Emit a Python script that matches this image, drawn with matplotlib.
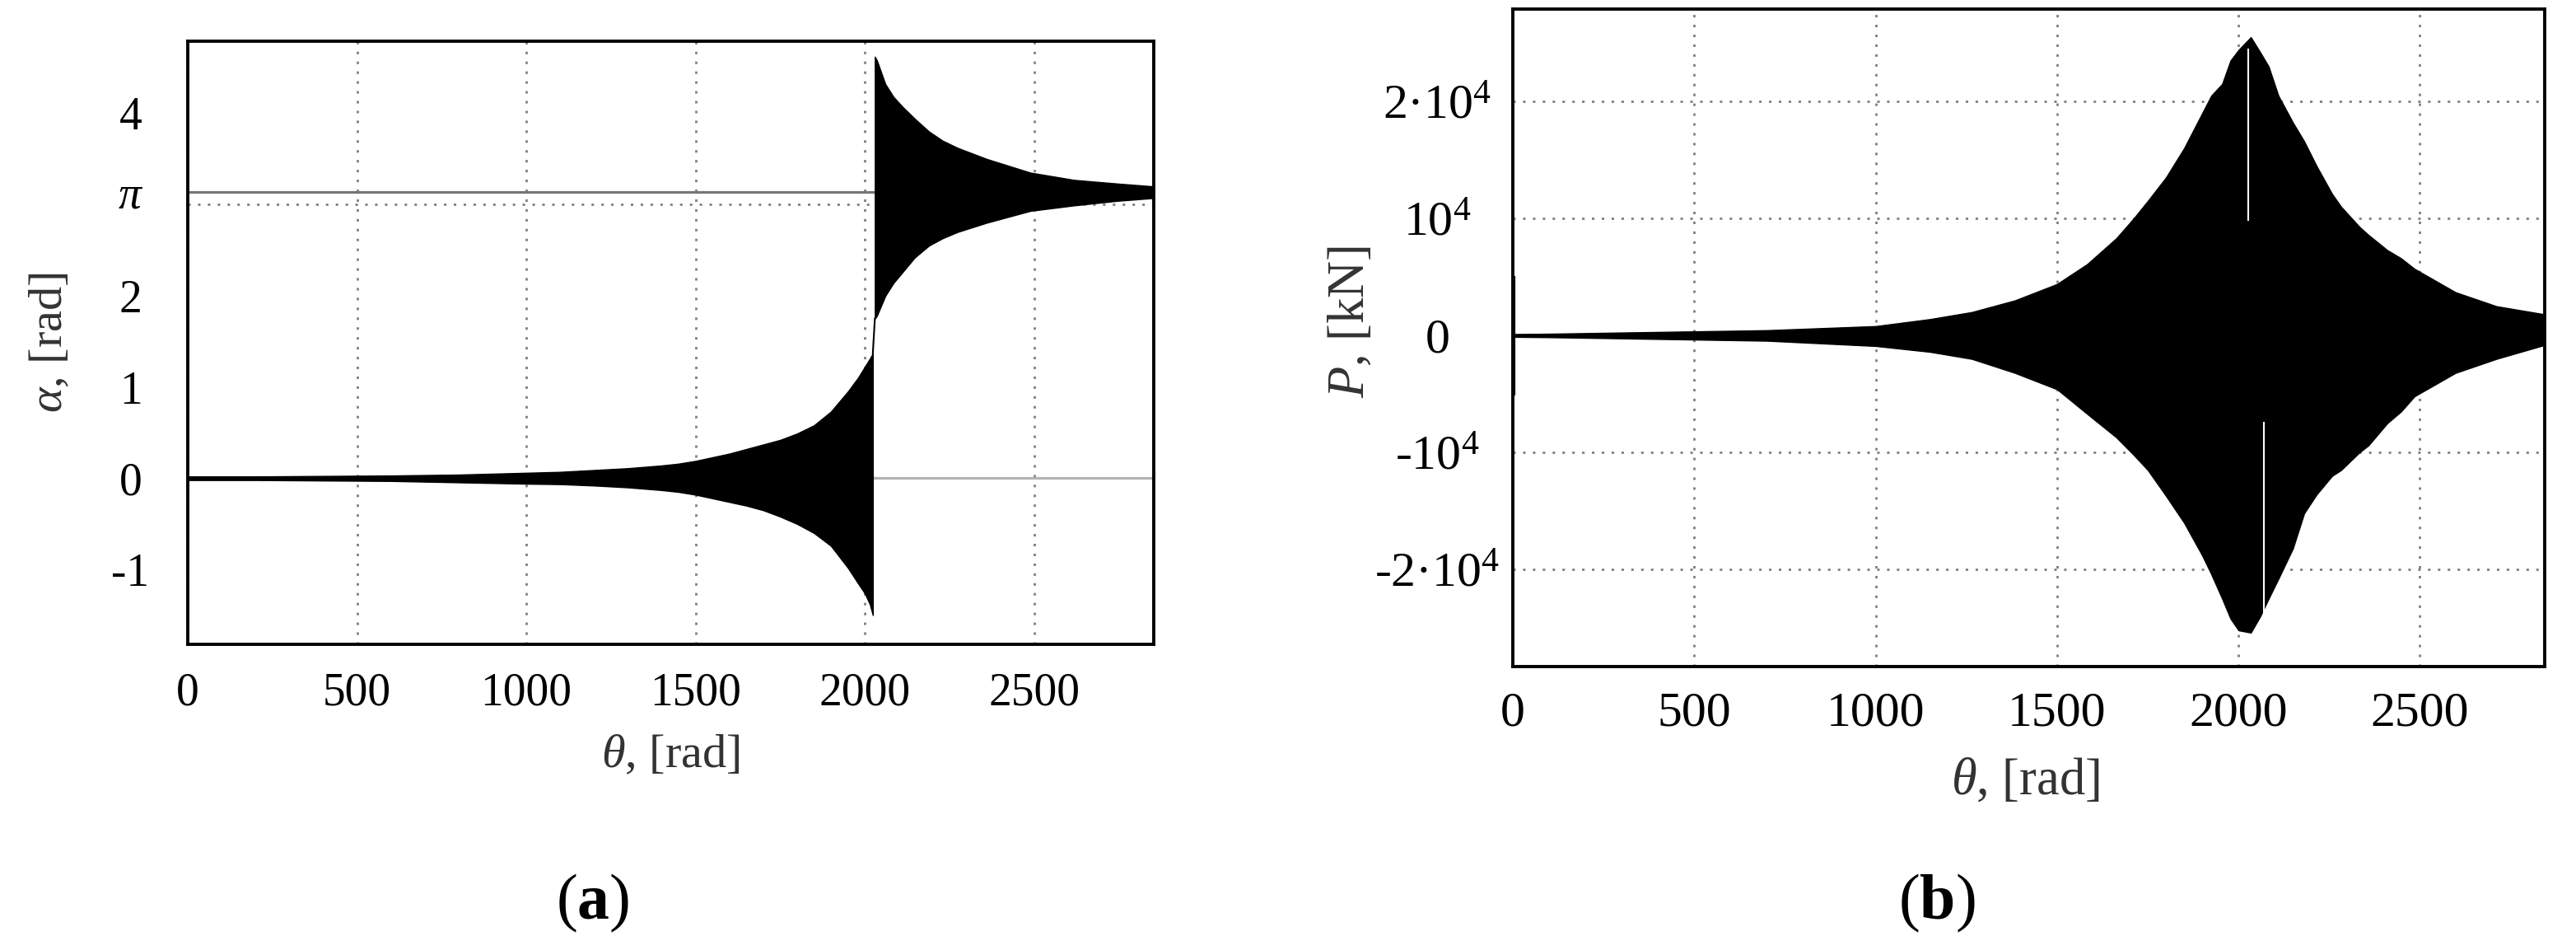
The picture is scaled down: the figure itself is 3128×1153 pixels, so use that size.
import numpy as np
import matplotlib
matplotlib.use("Agg")
import matplotlib.pyplot as plt

plt.rcParams['font.family'] = ['Liberation Serif', 'DejaVu Serif']
plt.rcParams['mathtext.fontset'] = 'custom'
plt.rcParams['mathtext.rm'] = 'Liberation Serif'
plt.rcParams['mathtext.it'] = 'Liberation Serif:italic'
plt.rcParams['mathtext.bf'] = 'Liberation Serif:bold'
plt.rcParams['axes.unicode_minus'] = False

# (a) pitch angle envelope before the flip, [rad]
theta_pre = [0, 200, 400, 600, 800, 1000, 1100, 1200, 1300, 1400, 1450, 1500, 1550,
             1600, 1650, 1700, 1750, 1800, 1850, 1900, 1950, 1980, 2000, 2015, 2024]
alpha_pre_hi = [0.02, 0.02, 0.025, 0.03, 0.04, 0.06, 0.07, 0.09, 0.11, 0.14, 0.16, 0.19, 0.23,
                0.27, 0.32, 0.37, 0.42, 0.49, 0.58, 0.73, 0.95, 1.10, 1.22, 1.31, 1.37]
alpha_pre_lo = [-0.02, -0.02, -0.025, -0.03, -0.045, -0.06, -0.065, -0.08, -0.10, -0.13, -0.15, -0.18, -0.22,
                -0.26, -0.30, -0.35, -0.42, -0.50, -0.60, -0.74, -0.98, -1.15, -1.26, -1.38, -1.50]

# jump between the two regimes
theta_jump = [2024, 2030]
alpha_jump = [1.37, 1.75]

# (a) envelope after the flip, oscillating about pi
theta_post = [2030, 2036, 2061, 2085, 2112, 2148, 2190, 2230, 2275, 2360, 2489, 2618, 2745, 2850]
alpha_post_hi = [4.62, 4.58, 4.32, 4.18, 4.07, 3.94, 3.80, 3.70, 3.62, 3.50, 3.35, 3.27, 3.23, 3.20]
alpha_post_lo = [1.75, 1.78, 2.00, 2.14, 2.26, 2.42, 2.55, 2.63, 2.70, 2.80, 2.93, 2.99, 3.04, 3.07]

# reference levels drawn in grey
theta_flip = 2027
theta_end = 2850

# (b) load envelope, [kN]
theta_b = [5, 100, 300, 500, 700, 1000, 1150, 1265, 1384, 1500, 1583, 1663, 1711, 1750,
           1800, 1850, 1900, 1925, 1955, 1978, 2000, 2034, 2060, 2083, 2110, 2150, 2181,
           2215, 2258, 2283, 2333, 2358, 2410, 2448, 2485, 2598, 2711, 2845]
P_hi = np.array([0.012, 0.015, 0.025, 0.035, 0.045, 0.08, 0.14, 0.20, 0.30, 0.44, 0.61, 0.83, 1.0, 1.15,
                 1.35, 1.6, 1.9, 2.05, 2.15, 2.35, 2.44, 2.55, 2.42, 2.30, 2.05, 1.82, 1.66,
                 1.45, 1.21, 1.10, 0.93, 0.86, 0.73, 0.66, 0.57, 0.37, 0.25, 0.18]) * 1e4
P_lo = np.array([-0.012, -0.015, -0.025, -0.035, -0.045, -0.09, -0.14, -0.20, -0.32, -0.46, -0.67, -0.87, -1.02, -1.15,
                 -1.37, -1.60, -1.88, -2.04, -2.25, -2.42, -2.52, -2.54, -2.40, -2.25, -2.08, -1.82, -1.52,
                 -1.36, -1.20, -1.15, -1.00, -0.94, -0.75, -0.65, -0.52, -0.32, -0.20, -0.08]) * 1e4

# start-up spike and data gaps (white)
spike_theta = [3]
spike_lo = [-0.51e4]
spike_hi = [0.51e4]
gap_theta = [2028, 2070]
gap_lo = [0.98e4, -2.40e4]
gap_hi = [2.45e4, -0.74e4]

xticks = [0, 500, 1000, 1500, 2000, 2500]
a_yticks = [-1, 0, 1, 2, np.pi, 4]
a_ylabels = ['-1', '0', '1', '2', r'$\pi$', '4']
a_ygrid = [-1, 0, 1, 2, 3, 4]
b_yticks = [-2e4, -1e4, 0, 1e4, 2e4]
b_ylabels = ['-2·$10^{4}$', '-$10^{4}$', '0', '$10^{4}$', '2·$10^{4}$']

W, H = 3128, 1153
fig = plt.figure(figsize=(W / 100, H / 100), dpi=100)
ax1 = fig.add_axes([228 / W, (H - 782) / H, (1401 - 228) / W, (782 - 50) / H])
ax2 = fig.add_axes([1837 / W, (H - 809) / H, (3090 - 1837) / W, (809 - 11) / H])

grid_kw = dict(color='#808080', linewidth=2.0, linestyle=(0, (1.1, 3.2)))


def style(ax, tick_size, xpad, ypad):
    ax.set_axisbelow(True)
    for s in ax.spines.values():
        s.set_linewidth(2.8)
        s.set_color('black')
    ax.set_xticks(xticks)
    ax.tick_params(length=0, labelsize=tick_size)
    ax.tick_params(axis='x', pad=xpad)
    ax.tick_params(axis='y', pad=ypad)
    ax.xaxis.grid(True, **grid_kw)


# ---- (a)
style(ax1, 40, 24, 50)
ax1.set_yticks(a_yticks)
ax1.set_yticklabels(a_ylabels)
ax1.set_yticks(a_ygrid, minor=True)
ax1.tick_params(axis='y', which='minor', length=0)
ax1.yaxis.grid(True, which='minor', **grid_kw)
for lab in ax1.get_yticklabels():
    lab.set_ha('center')

ax1.plot([0, theta_flip], [np.pi, np.pi], color='#767676', lw=2.3, zorder=2)
ax1.plot([theta_flip, theta_end], [0, 0], color='#b3b3b3', lw=2.3, zorder=2)
ax1.fill_between(theta_pre, alpha_pre_lo, alpha_pre_hi, color='black', lw=1, zorder=3)
ax1.plot(theta_jump, alpha_jump, color='black', lw=1.5, zorder=3)
ax1.fill_between(theta_post, alpha_post_lo, alpha_post_hi, color='black', lw=1, zorder=3)

ax1.set_xlim(0, 2854)
ax1.set_ylim(-1.82, 4.79)
ax1.set_xlabel(r'$\theta$, [rad]', fontsize=42, color='#333333')
ax1.set_ylabel(r'$\alpha$, [rad]', fontsize=42, color='#333333')
ax1.xaxis.set_label_coords(0.5, -0.184)
ax1.xaxis.label.set_va('center')
ax1.yaxis.set_label_coords(-0.142, 0.5)
ax1.yaxis.label.set_va('center')

# ---- (b)
style(ax2, 43, 22, 66)
ax2.set_yticks(b_yticks)
ax2.set_yticklabels(b_ylabels)
ax2.yaxis.grid(True, **grid_kw)
for lab in ax2.get_yticklabels():
    lab.set_ha('center')

ax2.fill_between(theta_b, P_lo, P_hi, color='black', lw=1, zorder=3)
ax2.vlines(spike_theta, spike_lo, spike_hi, color='black', lw=3, zorder=3)
ax2.vlines(gap_theta, gap_lo, gap_hi, color='white', lw=1.5, zorder=4)

ax2.set_xlim(0, 2844)
ax2.set_ylim(-2.83e4, 2.79e4)
ax2.set_xlabel(r'$\theta$, [rad]', fontsize=45, color='#333333')
ax2.set_ylabel(r'$P$, [kN]', fontsize=45, color='#333333')
ax2.xaxis.set_label_coords(0.497, -0.175)
ax2.xaxis.label.set_va('center')
ax2.yaxis.set_label_coords(-0.157, 0.524)
ax2.yaxis.label.set_va('center')

# panel captions
fig.text(720 / W, 1 - 1096 / H, r'($\mathbf{a}$)', fontsize=56, ha='center', va='center')
fig.text(2352 / W, 1 - 1096 / H, r'($\mathbf{b}$)', fontsize=56, ha='center', va='center')

fig.savefig('out.png', dpi=100, facecolor='white')
